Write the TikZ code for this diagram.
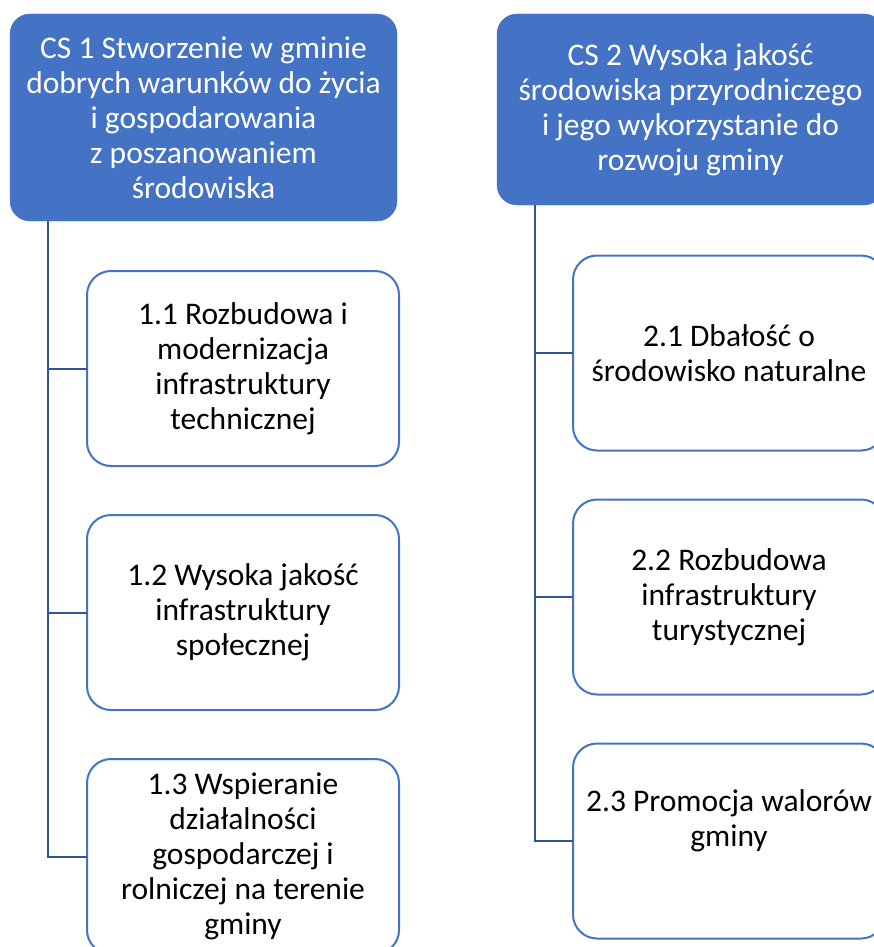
\documentclass[tikz,border=0pt]{standalone}
\usepackage{fontspec}
\setmainfont{Carlito}
\usetikzlibrary{positioning}

\definecolor{goalblue}{HTML}{4472C4}
\definecolor{linkblue}{HTML}{2F5597}

\tikzset{
    goal/.style={fill=goalblue, draw=goalblue, rounded corners=20pt, text=white,
        align=center, minimum width=387pt, inner sep=0pt, outer sep=0pt},
    task/.style={fill=white, draw=goalblue, line width=2pt, rounded corners=24pt,
        align=center, minimum width=312pt, minimum height=195pt, inner sep=0pt, outer sep=0pt},
    link/.style={draw=linkblue, line width=2pt},
}

\begin{document}
\begin{tikzpicture}[x=1pt, y=-1pt, every node/.style={font=\fontsize{31.5}{35}\selectfont}]
    \clip (0,0) rectangle (874,947);

    % main goals
    \node[goal, minimum height=207pt] (cs1) at (203.5,117.5)
        {CS 1 Stworzenie w gminie\\dobrych warunków do życia\\i gospodarowania\\z poszanowaniem\\środowiska};
    \node[goal, minimum height=191pt] (cs2) at (690.5,109.5)
        {CS 2 Wysoka jakość\\środowiska przyrodniczego\\i jego wykorzystanie do\\rozwoju gminy};

    % tasks of CS 1
    \node[task] (b11) at (243,368.5) {1.1 Rozbudowa i\\modernizacja\\infrastruktury\\technicznej};
    \node[task, below=49pt of b11] (b12) {1.2 Wysoka jakość\\infrastruktury\\społecznej};
    \node[task, below=49pt of b12] (b13) {1.3 Wspieranie\\działalności\\gospodarczej i\\rolniczej na terenie\\gminy};

    % tasks of CS 2
    \node[task] (b21) at (729,353) {2.1 Dbałość o\\środowisko naturalne};
    \node[task, below=49pt of b21] (b22) {2.2 Rozbudowa\\infrastruktury\\turystycznej};
    \node[task, below=49pt of b22] (b23) {2.3 Promocja walorów\\gminy\\\strut};

    % trunks and branches
    \coordinate (k1) at (48,0);
    \coordinate (k2) at (535,0);
    \draw[link] (cs1.south -| k1) |- (b13.west);
    \draw[link] (cs2.south -| k2) |- (b23.west);
    \foreach \b in {b11,b12} {
        \draw[link] (\b.west -| k1) -- (\b.west);
    }
    \foreach \b in {b21,b22} {
        \draw[link] (\b.west -| k2) -- (\b.west);
    }
\end{tikzpicture}
\end{document}
